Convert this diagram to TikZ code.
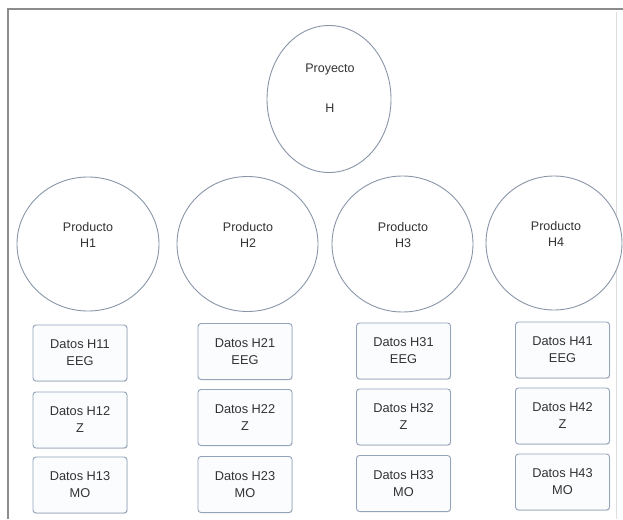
\documentclass[tikz,border=0pt]{standalone}
\usepackage{fontspec}
\setmainfont{Liberation Sans}
\usetikzlibrary{shapes.geometric,shadows}
\definecolor{ringcol}{HTML}{8A96A8}
\definecolor{boxcol}{HTML}{93A3BA}
\definecolor{boxfill}{HTML}{FBFCFE}
\definecolor{txtcol}{HTML}{333333}
\definecolor{framecol}{HTML}{8C8C8C}
\tikzset{
  ring/.style={ellipse, draw=ringcol, line width=0.9pt, fill=white, inner sep=0pt},
  ringtext/.style={align=center, text=txtcol, font=\fontsize{12.5}{16.5}\selectfont},
  databox/.style={draw=boxcol, line width=0.9pt, fill=boxfill, rounded corners=3pt,
    minimum width=94pt, minimum height=56pt, align=center, text=txtcol,
    font=\fontsize{12.8}{17}\selectfont,
    drop shadow={shadow xshift=0.6pt, shadow yshift=-0.8pt, fill=black!25, opacity=0.5}},
}
\begin{document}
\begin{tikzpicture}[x=1pt,y=-1pt]
\useasboundingbox (0,0) rectangle (623,519);
\fill[white] (0,0) rectangle (623,519);
% frame
\draw[framecol, line width=1.6pt] (8,519) -- (8,9) -- (623,9);
\draw[gray!25, line width=0.8pt] (616,12) -- (616,519);
% project
\node[ring, minimum width=124pt, minimum height=147pt] (proj) at (329,99) {};
\node[ringtext, anchor=center] (projt) at (330,88) {Proyecto\\[24pt]H};
% products
\node[ring, minimum width=142pt, minimum height=134pt] (p1) at (88,244) {};
\node[ring, minimum width=141pt, minimum height=135pt] (p2) at (247.5,244) {};
\node[ring, minimum width=141pt, minimum height=136pt] (p3) at (402.5,244) {};
\node[ring, minimum width=136pt, minimum height=134pt] (p4) at (554,243) {};
\node[ringtext] (p1t) at (88,235) {Producto\\H1};
\node[ringtext] (p2t) at (248,235) {Producto\\H2};
\node[ringtext] (p3t) at (403,235) {Producto\\H3};
\node[ringtext] (p4t) at (556,234) {Producto\\H4};
% data boxes
\node[databox] (d11) at (80,353) {Datos H11\\EEG};
\node[databox] (d12) at (80,420) {Datos H12\\Z};
\node[databox] (d13) at (80,485) {Datos H13\\MO};
\node[databox] (d21) at (245,351.5) {Datos H21\\EEG};
\node[databox] (d22) at (245,417.5) {Datos H22\\Z};
\node[databox] (d23) at (245,484.5) {Datos H23\\MO};
\node[databox] (d31) at (403.5,351) {Datos H31\\EEG};
\node[databox] (d32) at (403.5,417) {Datos H32\\Z};
\node[databox] (d33) at (403.5,483.5) {Datos H33\\MO};
\node[databox] (d41) at (562.5,350) {Datos H41\\EEG};
\node[databox] (d42) at (562.5,416) {Datos H42\\Z};
\node[databox] (d43) at (562.5,482) {Datos H43\\MO};
\end{tikzpicture}
\end{document}
